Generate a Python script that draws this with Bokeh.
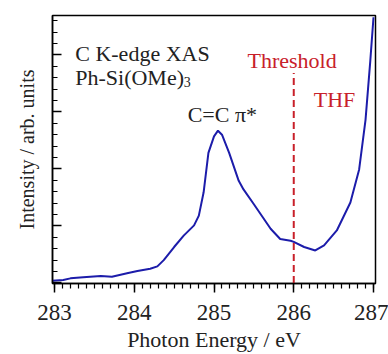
from bokeh.plotting import figure
from bokeh.models import Range1d, SingleIntervalTicker, Label, CustomJSTickFormatter
from bokeh.embed import file_html
from bokeh.resources import INLINE

# Spectrum data (photon energy in eV, intensity in arb. units)
energy = [282.97, 283.11, 283.20, 283.36, 283.58, 283.72, 283.91, 284.04, 284.20,
          284.29, 284.37, 284.50, 284.62, 284.75, 284.81, 284.87, 284.93, 285.00,
          285.05, 285.10, 285.19, 285.31, 285.37, 285.50, 285.71, 285.83, 285.96,
          286.00, 286.13, 286.27, 286.38, 286.54, 286.71, 286.82, 286.90, 286.96, 287.00]
intensity = [0.04, 0.05, 0.08, 0.10, 0.12, 0.11, 0.17, 0.21, 0.25,
             0.29, 0.40, 0.63, 0.83, 1.01, 1.18, 1.59, 2.28, 2.57,
             2.67, 2.60, 2.28, 1.79, 1.64, 1.38, 0.95, 0.77, 0.74,
             0.72, 0.63, 0.57, 0.66, 0.92, 1.41, 1.99, 2.86, 3.90, 4.66]

threshold_x = [286.0]
threshold_y0 = [0.0]
threshold_y1 = [3.68]

FONT = "Liberation Serif"
BLUE = "#1c1caa"
RED = "#c8202a"

p = figure(width=388, height=354, output_backend="svg", toolbar_location=None,
           x_range=Range1d(282.975, 287.025), y_range=Range1d(-0.01, 4.69),
           min_border_left=52, min_border_right=13, min_border_top=15, min_border_bottom=69)

p.xgrid.visible = False
p.ygrid.visible = False
p.outline_line_color = "black"
p.outline_line_width = 1.5
p.background_fill_color = "white"
p.border_fill_color = "white"

p.line(energy, intensity, line_color=BLUE, line_width=2)
p.segment(x0=threshold_x, y0=threshold_y0, x1=threshold_x, y1=threshold_y1,
          line_color=RED, line_width=2, line_dash="7 4")

# x axis
xa = p.xaxis[0]
xa.ticker = SingleIntervalTicker(interval=1, num_minor_ticks=10)
xa.axis_line_width = 1.5
xa.major_tick_in = 0
xa.major_tick_out = 9
xa.minor_tick_in = 0
xa.minor_tick_out = 5
xa.major_tick_line_width = 1.5
xa.minor_tick_line_width = 1.2
xa.major_label_text_font = FONT
xa.major_label_text_font_size = "23px"
xa.major_label_text_color = "#222222"
xa.major_label_standoff = 12
xa.axis_label = "Photon Energy / eV"
xa.axis_label_text_font = FONT
xa.axis_label_text_font_style = "normal"
xa.axis_label_text_font_size = "22px"
xa.axis_label_text_color = "#222222"
xa.axis_label_standoff = 4

# y axis
ya = p.yaxis[0]
ya.ticker = SingleIntervalTicker(interval=1, num_minor_ticks=5)
ya.formatter = CustomJSTickFormatter(code="return ''")
ya.axis_line_width = 1.5
ya.major_tick_in = 9
ya.major_tick_out = 0
ya.minor_tick_in = 5
ya.minor_tick_out = 0
ya.major_tick_line_width = 1.5
ya.minor_tick_line_width = 1.2
ya.major_label_standoff = 0
ya.axis_label = "Intensity / arb. units"
ya.axis_label_text_font = FONT
ya.axis_label_text_font_style = "normal"
ya.axis_label_text_font_size = "20px"
ya.axis_label_text_color = "#222222"
ya.axis_label_standoff = 15

def lab(x, y, t, color="#222222", size="22px"):
    p.add_layout(Label(x=x, y=y, text=t, text_font=FONT, text_font_size=size,
                       text_color=color, text_baseline="alphabetic"))

lab(283.26, 4.03, "C K-edge XAS")
lab(283.26, 3.61, "Ph-Si(OMe)")
lab(284.62, 3.52, "3", size="14px")
lab(284.67, 2.95, "C=C π*")
lab(285.42, 3.90, "Threshold", color=RED)
lab(286.25, 3.21, "THF", color=RED)

open("out.html", "w").write(file_html(p, INLINE))
